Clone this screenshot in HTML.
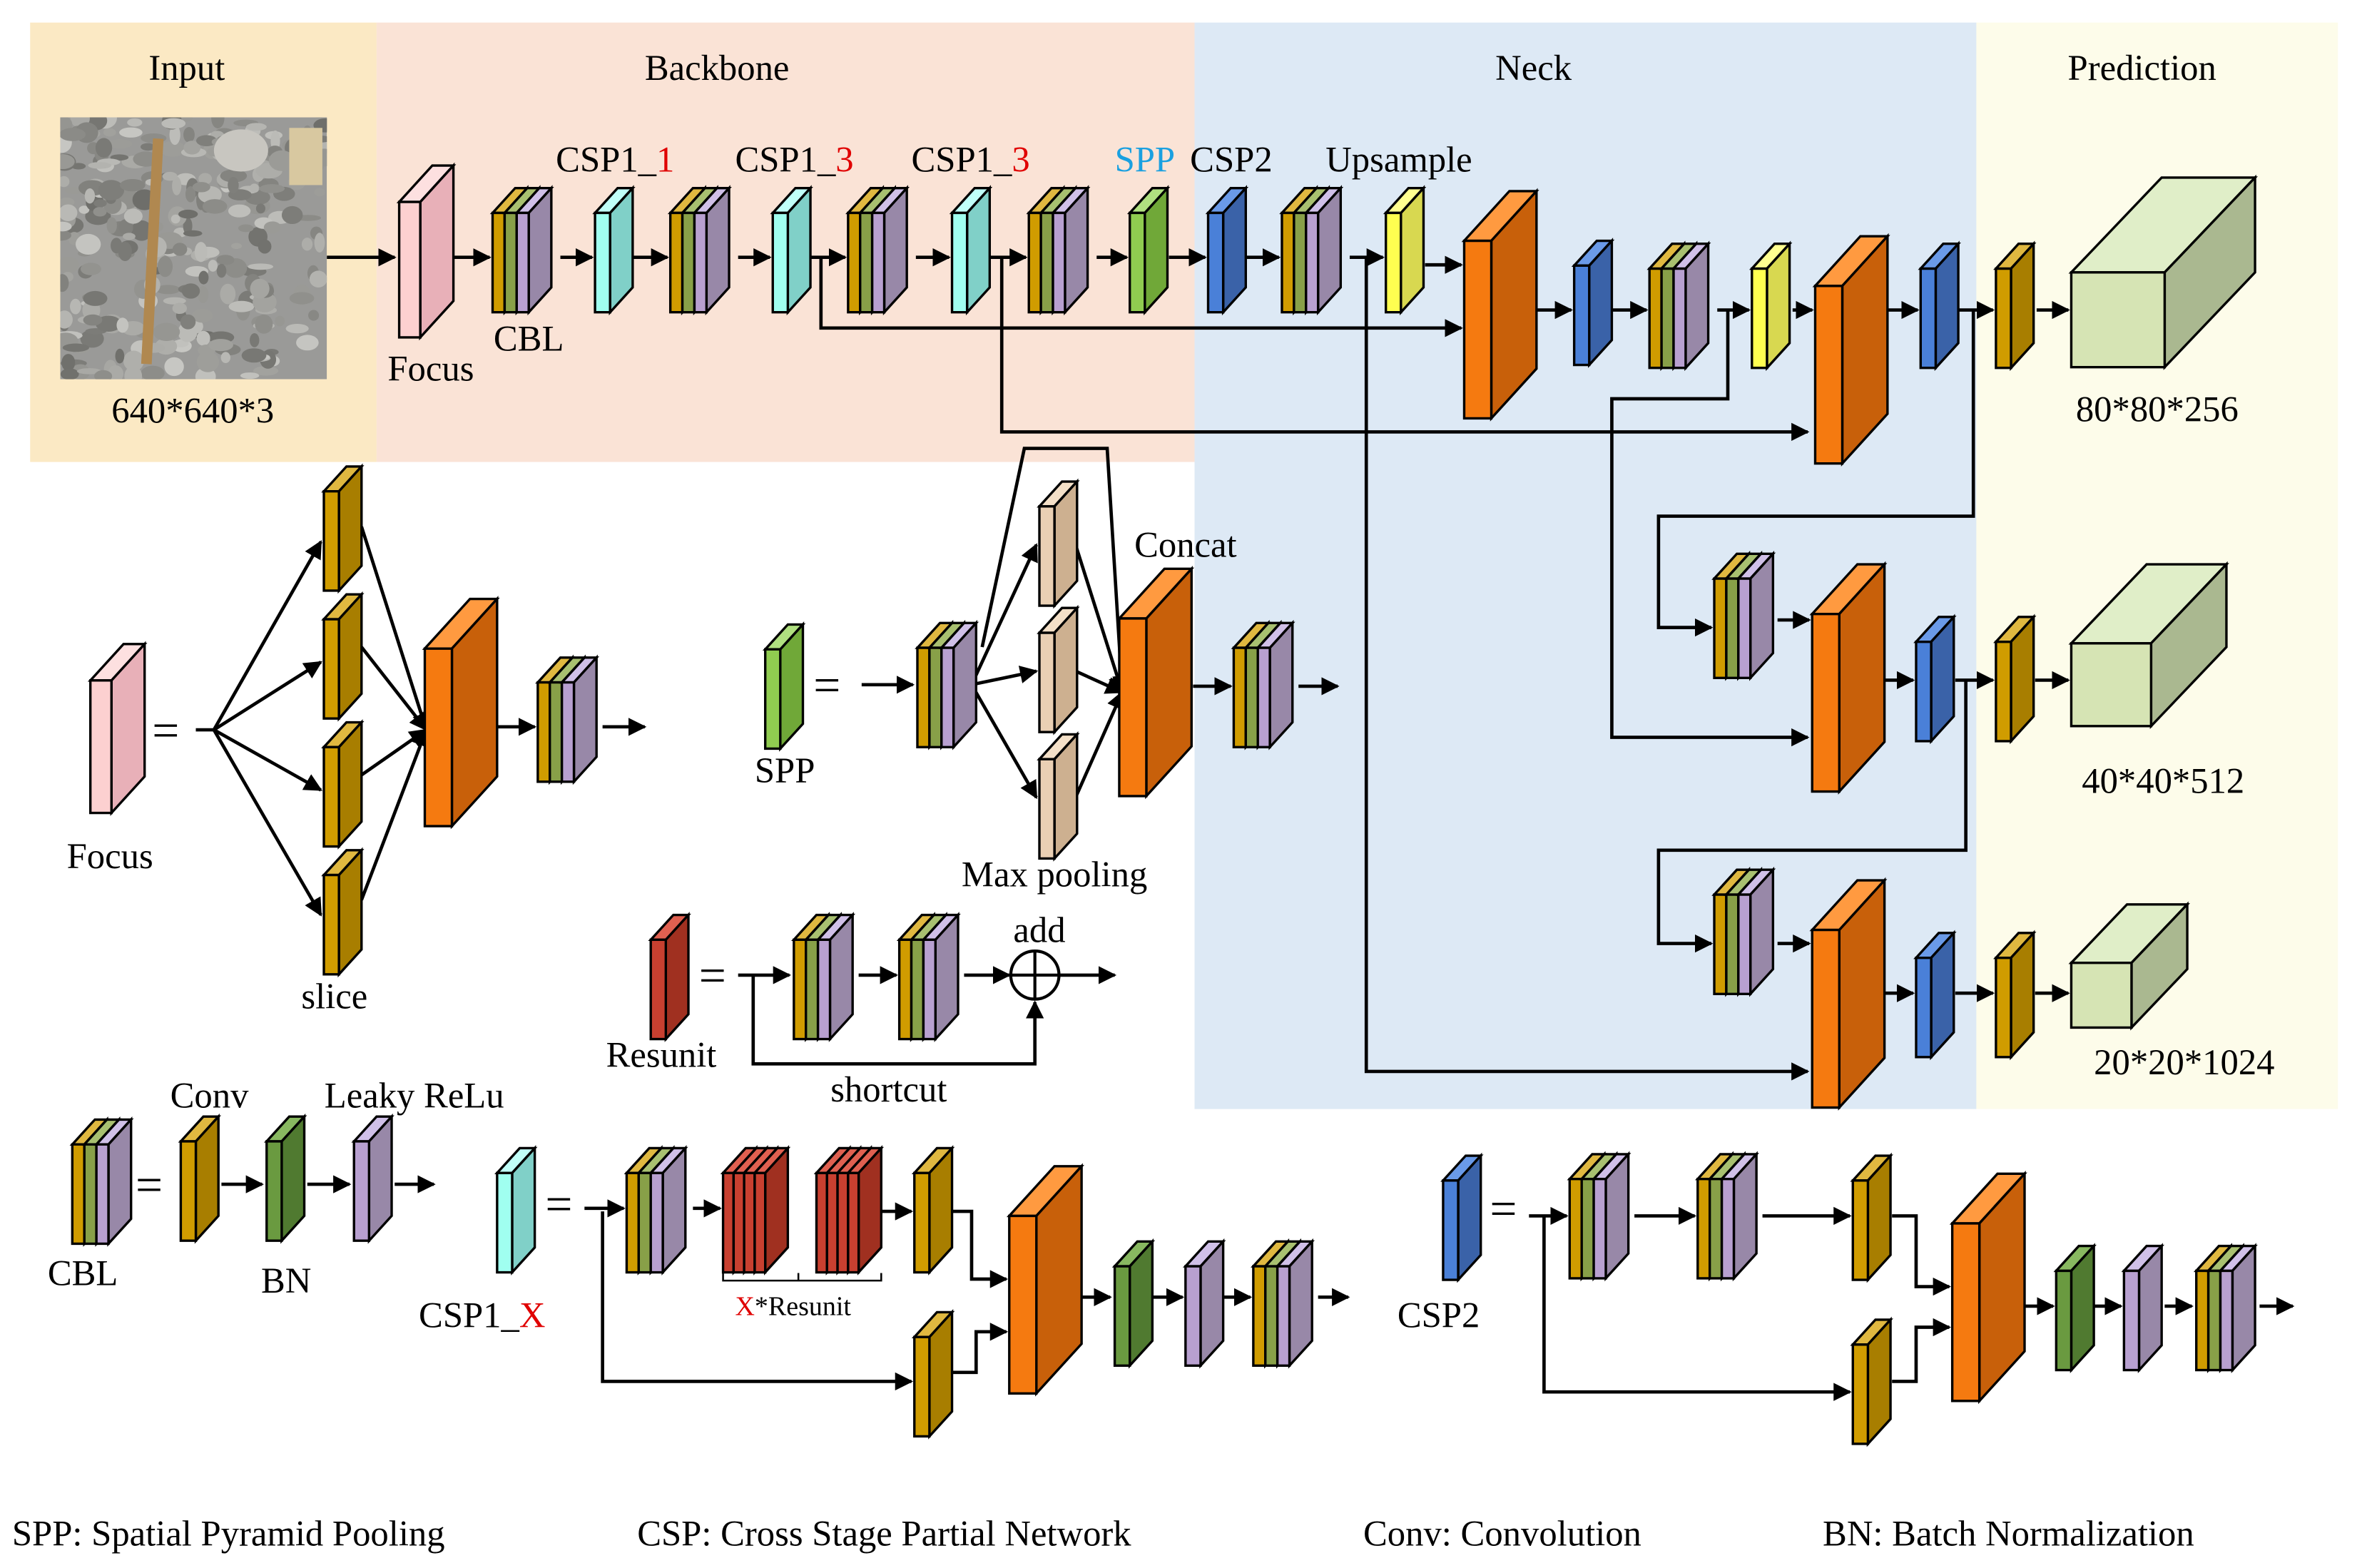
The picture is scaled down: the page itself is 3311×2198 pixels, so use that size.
<!DOCTYPE html>
<html><head><meta charset="utf-8"><style>
html,body{margin:0;padding:0;background:#fff;width:3311px;height:2198px;overflow:hidden}
svg{display:block}
svg text{font-family:"Liberation Serif","DejaVu Serif","Times New Roman",serif;font-size:24px;fill:#000}
</style></head><body>
<svg id="s" width="3311" height="2198" viewBox="0 0 1568 1042" preserveAspectRatio="none" xmlns="http://www.w3.org/2000/svg">
<defs>
<marker id="ar" viewBox="0 0 10 10" refX="9" refY="5" markerWidth="12" markerHeight="12" orient="auto" markerUnits="userSpaceOnUse"><path d="M0,0 L10,5 L0,10 z" fill="#000"/></marker>
<clipPath id="ic"><rect x="40" y="78" width="177" height="174"/></clipPath>
</defs>
<rect x="20" y="15" width="230" height="292" fill="#fbe9c4"/>
<rect x="250" y="15" width="543" height="292" fill="#fae3d6"/>
<rect x="793" y="15" width="519" height="722" fill="#dde9f5"/>
<rect x="1312" y="15" width="240" height="722" fill="#fdfcea"/>
<g id="img" clip-path="url(#ic)"><rect x="40" y="78" width="177" height="174" fill="#9a9a98"/></g>
<g id="lines" fill="none" stroke="#000" stroke-width="2.2"></g>
<g id="shapes"></g>
<g>
<text x="124" y="53" text-anchor="middle">Input</text>
<text x="476" y="53" text-anchor="middle">Backbone</text>
<text x="1018" y="53" text-anchor="middle">Neck</text>
<text x="1422" y="53" text-anchor="middle">Prediction</text>
<text x="128" y="281" text-anchor="middle">640*640*3</text>
<text x="286" y="253" text-anchor="middle">Focus</text>
<text x="351" y="233" text-anchor="middle">CBL</text>
<text x="369" y="114">CSP1_<tspan fill="#e00000">1</tspan></text>
<text x="488" y="114">CSP1_<tspan fill="#e00000">3</tspan></text>
<text x="605" y="114">CSP1_<tspan fill="#e00000">3</tspan></text>
<text x="740" y="114" style="fill:#1aa0e0">SPP</text>
<text x="790" y="114">CSP2</text>
<text x="880" y="114">Upsample</text>
<text x="1432" y="280" text-anchor="middle">80*80*256</text>
<text x="1436" y="527" text-anchor="middle">40*40*512</text>
<text x="1450" y="714" text-anchor="middle">20*20*1024</text>
<text x="73" y="577" text-anchor="middle">Focus</text>
<text x="222" y="670" text-anchor="middle">slice</text>
<text x="521" y="520" text-anchor="middle">SPP</text>
<text x="787" y="370" text-anchor="middle">Concat</text>
<text x="700" y="589" text-anchor="middle">Max pooling</text>
<text x="439" y="709" text-anchor="middle">Resunit</text>
<text x="690" y="626" text-anchor="middle">add</text>
<text x="590" y="732" text-anchor="middle">shortcut</text>
<text x="55" y="854" text-anchor="middle">CBL</text>
<text x="139" y="736" text-anchor="middle">Conv</text>
<text x="190" y="859" text-anchor="middle">BN</text>
<text x="275" y="736" text-anchor="middle">Leaky ReLu</text>
<text x="278" y="882">CSP1_<tspan fill="#e00000">X</tspan></text>
<text x="488" y="874" style="font-size:18px"><tspan fill="#e00000">X</tspan>*Resunit</text>
<text x="955" y="882" text-anchor="middle">CSP2</text>
<text x="8" y="1027">SPP: Spatial Pyramid Pooling</text>
<text x="423" y="1027">CSP: Cross Stage Partial Network</text>
<text x="905" y="1027">Conv: Convolution</text>
<text x="1210" y="1027">BN: Batch Normalization</text>
<text x="101" y="496" style="font-size:32px">=</text>
<text x="540" y="466" style="font-size:32px">=</text>
<text x="464" y="659" style="font-size:32px">=</text>
<text x="90" y="798" style="font-size:32px">=</text>
<text x="362" y="811" style="font-size:32px">=</text>
<text x="989" y="814" style="font-size:32px">=</text>
</g>
</svg>
<script>
var NS="http://www.w3.org/2000/svg",S=document.getElementById("shapes"),L=document.getElementById("lines");
function el(p,t,a){var e=document.createElementNS(NS,t);for(var k in a)e.setAttribute(k,a[k]);p.appendChild(e);return e;}
function poly(pts,f){el(S,"polygon",{points:pts.map(function(p){return p.join(",")}).join(" "),fill:f,stroke:"#000","stroke-width":1.6,"stroke-linejoin":"miter"});}
function blk(x,y,w,h,d,c){var dy=d*1.1;
poly([[x,y+dy],[x+d,y],[x+w+d,y],[x+w,y+dy]],c[2]);
poly([[x+w,y+dy],[x+w+d,y],[x+w+d,y+h],[x+w,y+dy+h]],c[1]);
poly([[x,y+dy],[x+w,y+dy],[x+w,y+dy+h],[x,y+dy+h]],c[0]);}
var GOLD=["#d09c00","#a87e00","#e0b840"],GRN=["#88a048","#6e8a38","#a8c070"],LAV=["#b8a0d0","#9888a8","#d0c0e8"],
CY=["#a0fff0","#80d0c8","#c0fff8"],BL=["#4a80d8","#3a62a8","#6a9ae8"],YE=["#ffff50","#d8d850","#ffff90"],
OR=["#f57a10","#c8600a","#ff9a40"],PK=["#fcd0d0","#e8b0b8","#fde0e0"],SP=["#90cc50","#70a838","#b0e080"],
BE=["#ead0b4","#cdb090","#f4e0c8"],RD=["#c84030","#a03020","#e06050"],DG=["#6a9a40","#507a30","#88b860"];
function one(x,y,c,h){blk(x,y,10,h||66,15,c);}
function cbl(x,y,h){h=h||66;blk(x,y,8,h,15,GOLD);blk(x+8,y,8,h,15,GRN);blk(x+16,y,8,h,15,LAV);}
function red(x,y){for(var i=0;i<4;i++)blk(x+i*7,y,7,66,15,RD);}
function big(x,y,h){blk(x,y,18,h||118,30,OR);}
function ln(pts,arr){el(L,"polyline",{points:pts.map(function(p){return p.join(",")}).join(" "),"marker-end":arr?"url(#ar)":""});}
var G=document.getElementById("img");var seed=7;function r(){seed=(seed*9301+49297)%233280;return seed/233280;}
for(var i=0;i<300;i++){var g=Math.floor(110+r()*90);el(G,"ellipse",{cx:40+r()*177,cy:78+r()*174,rx:3+r()*6,ry:2+r()*5,fill:"rgb("+g+","+g+","+(g-4)+")"});}
el(G,"rect",{x:98,y:92,width:7,height:150,fill:"#b08850",transform:"rotate(3 101 160)"});
el(G,"ellipse",{cx:160,cy:100,rx:18,ry:14,fill:"#c8c6c0"});
el(G,"rect",{x:192,y:85,width:22,height:38,fill:"#d8c8a0"});
var A=[[[217,171],[262,171]],[[283,171],[325,171]],[[372,171],[393,171]],[[420,171],[443,171]],[[490,171],[511,171]],[[538,171],[561,171]],[[608,171],[630,171]],[[657,171],[681,171]],[[728,171],[748,171]],[[776,171],[800,171]],[[826,171],[849,171]],[[896,171],[918,171]],[[946,176],[970,176]],
[[1020,206],[1043,206]],[[1070,206],[1093,206]],[[1140,206],[1161,206]],[[1190,206],[1203,206]],[[1253,206],[1273,206]],[[1300,206],[1323,206]],[[1352,206],[1373,206]],
[[1180,412],[1201,412]],[[1251,452],[1270,452]],[[1298,452],[1323,452]],[[1351,452],[1373,452]],
[[1180,627],[1201,627]],[[1251,660],[1270,660]],[[1298,660],[1323,660]],[[1351,660],[1373,660]],
[[330,483],[355,483]],[[400,483],[428,483]],[[572,455],[606,455]],[[792,456],[817,456]],[[862,456],[888,456]],
[[490,648],[524,648]],[[570,648],[595,648]],[[640,648],[670,648]],[[703,648],[740,648]],
[[147,787],[174,787]],[[204,787],[232,787]],[[262,787],[288,787]],
[[388,803],[414,803]],[[460,803],[478,803]],[[585,805],[605,805]],[[718,862],[737,862]],[[765,862],[785,862]],[[812,862],[830,862]],[[875,862],[895,862]],
[[1015,808],[1040,808]],[[1085,808],[1125,808]],[[1170,808],[1228,808]],[[1343,868],[1363,868]],[[1390,868],[1408,868]],[[1437,868],[1455,868]],[[1500,868],[1522,868]]];
A.forEach(function(p){ln(p,1);});
ln([[545,171],[545,218],[970,218]],1);
ln([[665,171],[665,287],[1200,287]],1);
ln([[907,171],[907,712],[1200,712]],1);
ln([[1147,206],[1147,265],[1070,265],[1070,490],[1200,490]],1);
ln([[1310,206],[1310,343],[1101,343],[1101,417],[1136,417]],1);
ln([[1305,452],[1305,565],[1101,565],[1101,627],[1136,627]],1);
[360,440,525,608].forEach(function(y){ln([[142,485],[213,y]],1);ln([[240,y-10],[283,485]],1);});
ln([[130,485],[142,485]]);
[362,446,530].forEach(function(y){ln([[645,455],[688,y]],1);ln([[714,y],[745,460]],1);});
ln([[652,430],[680,298],[735,298],[745,460]],1);
ln([[500,648],[500,707],[687,707],[687,666]],1);
ln([[632,805],[645,805],[645,850],[668,850]],1);
ln([[400,805],[400,918],[605,918]],1);
ln([[632,912],[648,912],[648,885],[668,885]],1);
el(L,"path",{d:"M480,846 v5 h50 v-5 M530,851 h55 v-5","stroke-width":1.2});
ln([[1256,808],[1272,808],[1272,855],[1294,855]],1);
ln([[1025,808],[1025,925],[1228,925]],1);
ln([[1256,918],[1272,918],[1272,882],[1294,882]],1);
blk(265,110,14,90,22,PK);
cbl(327,125);one(395,125,CY);cbl(445,125);one(513,125,CY);cbl(563,125);one(632,125,CY);cbl(683,125);
one(750,125,SP);one(802,125,BL);cbl(851,125);one(920,125,YE);
big(972,127,118);one(1045,160,BL);cbl(1095,162);one(1163,162,YE);big(1205,157,118);one(1275,162,BL);one(1325,162,GOLD);
cbl(1138,368);big(1203,375,118);one(1272,410,BL);one(1325,410,GOLD);
cbl(1138,578);big(1203,585,118);one(1272,620,BL);one(1325,620,GOLD);
function cub(x,y,w,h,d){var dy=d*1.05;poly([[x,y+dy],[x+d,y],[x+w+d,y],[x+w,y+dy]],"#e0eec8");poly([[x+w,y+dy],[x+w+d,y],[x+w+d,y+h],[x+w,y+dy+h]],"#aab890");poly([[x,y+dy],[x+w,y+dy],[x+w,y+dy+h],[x,y+dy+h]],"#d6e4b4");}
cub(1375,118,62,63,60);cub(1375,375,53,55,50);cub(1375,601,40,43,37);
blk(60,428,14,88,22,PK);
[310,395,480,565].forEach(function(y){one(215,y,GOLD);});
big(282,398,118);cbl(357,437);
one(508,415,SP);cbl(609,414);[320,404,488].forEach(function(y){one(690,y,BE);});big(743,378,118);cbl(819,414);
one(432,608,RD);cbl(527,608);cbl(597,608);
el(S,"circle",{cx:687,cy:648,r:16,fill:"none",stroke:"#000","stroke-width":2});
el(S,"path",{d:"M671,648 h32 M687,632 v32",stroke:"#000","stroke-width":2});
cbl(48,744);one(120,742,GOLD);one(177,742,DG);one(235,742,LAV);
one(330,763,CY);cbl(416,763);red(480,763);red(542,763);one(607,763,GOLD);one(607,872,GOLD);big(670,775,118);one(740,825,DG);one(787,825,LAV);cbl(832,825);
one(958,768,BL);cbl(1042,767);cbl(1127,767);one(1230,768,GOLD);one(1230,877,GOLD);big(1296,780,118);one(1365,828,DG);one(1410,828,LAV);cbl(1458,828);
</script>
</body></html>
